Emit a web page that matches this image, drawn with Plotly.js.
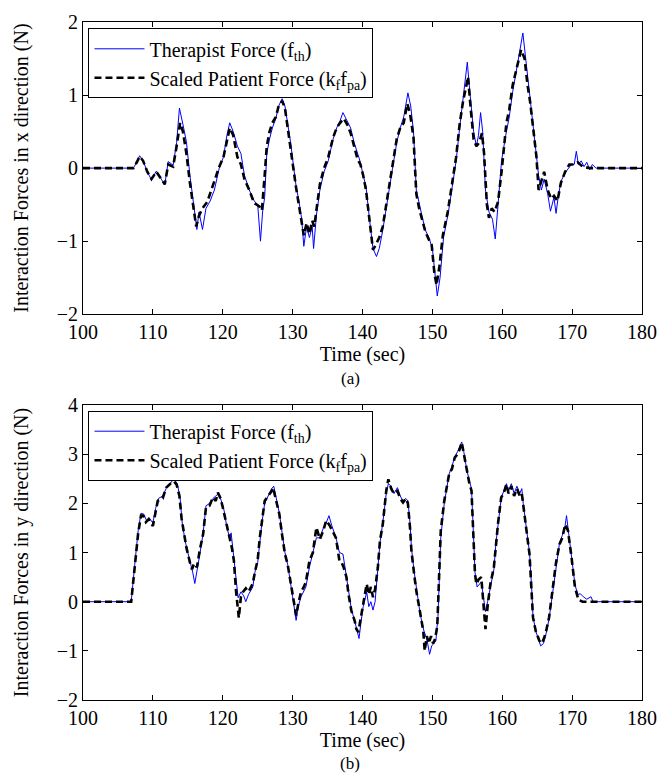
<!DOCTYPE html>
<html>
<head>
<meta charset="utf-8">
<script src="https://cdn.plot.ly/plotly-3.0.1.min.js"></script>
<style>html,body{margin:0;padding:0;background:#fff;}#chart{width:671px;height:774px;}</style>
</head>
<body>
<div id="chart"></div>
<script>
// ---- (a) x direction ----
const xThT = [100,107.2,107.7,108.1,108.6,109.2,109.8,110.5,111.2,111.7,112.2,112.9,113.4,113.8,114.3,114.8,115.3,115.8,116.3,116.6,117.1,117.6,118.2,118.8,119.5,120.1,120.6,121.0,121.5,122.1,122.6,123.1,123.8,124.5,125.0,125.4,125.7,126.0,126.3,126.7,127.1,127.6,128.0,128.5,128.9,129.3,129.7,130.1,130.5,130.9,131.3,131.6,132.0,132.4,132.8,133.0,133.4,133.9,134.5,135.1,135.8,136.3,136.8,137.2,137.8,138.3,138.8,139.3,139.7,140.1,140.5,141.0,141.5,142.0,142.4,142.9,143.6,144.3,144.9,145.4,145.9,146.5,146.9,147.3,147.7,148.1,148.5,149.0,149.5,150.0,150.4,150.7,151.1,151.6,152.3,152.9,153.4,153.9,154.4,154.8,155.0,155.4,155.9,156.3,156.6,156.9,157.2,157.6,158.1,158.6,159.0,159.4,159.9,160.5,161.0,161.5,162.0,162.5,162.95,163.3,163.7,164.0,164.4,164.9,165.2,165.6,166.0,166.5,166.9,167.4,167.7,168.0,168.4,169.1,169.9,170.3,170.6,170.9,171.3,171.7,172.1,172.5,172.9,173.4,180];
const xThV = [0,0,0.08,0.17,0.1,-0.05,-0.16,-0.04,-0.15,-0.23,0.09,0.04,0.35,0.82,0.6,0.36,-0.1,-0.5,-0.84,-0.6,-0.84,-0.55,-0.45,-0.3,0.0,0.15,0.45,0.62,0.5,0.3,0.2,-0.1,-0.3,-0.45,-0.5,-1.0,-0.6,-0.4,0.2,0.4,0.55,0.68,0.85,0.95,0.85,0.6,0.36,0.05,-0.25,-0.45,-0.7,-1.07,-0.8,-0.95,-0.8,-1.1,-0.65,-0.3,-0.05,0.1,0.4,0.55,0.65,0.76,0.65,0.55,0.35,0.2,0.08,-0.1,-0.25,-0.7,-1.1,-1.21,-1.1,-0.85,-0.4,0.0,0.35,0.55,0.7,1.03,0.85,0.5,-0.3,-0.5,-0.65,-0.85,-0.95,-1.1,-1.5,-1.75,-1.5,-0.95,-0.6,-0.2,0.1,0.55,0.95,1.25,1.45,1.0,0.5,0.3,0.45,0.76,0.5,-0.3,-0.6,-0.7,-0.97,-0.5,0.1,0.45,0.7,1.05,1.3,1.6,1.85,1.55,1.2,1.0,0.64,0.2,-0.1,-0.3,-0.15,-0.35,-0.59,-0.4,-0.62,-0.4,-0.18,-0.05,0.05,0.05,0.23,0.05,0.1,0.02,0.08,-0.02,0.05,0.0,0];
const xPaT = [100,107.2,107.7,108.1,108.6,109.2,109.8,110.5,111.2,111.7,112.2,112.9,113.4,113.9,114.3,114.8,115.3,115.8,116.2,116.6,117.1,117.8,118.6,119.5,120.1,120.6,121.0,121.5,122.1,122.6,123.1,123.8,124.5,125.2,125.6,126.0,126.3,126.7,127.1,127.6,128.0,128.5,128.9,129.3,129.7,130.1,130.5,130.9,131.3,131.6,132.0,132.4,132.8,133.1,133.4,133.9,134.5,135.1,135.8,136.3,136.8,137.3,137.8,138.3,138.8,139.3,139.7,140.1,140.5,141.0,141.5,141.9,142.4,142.9,143.6,144.3,144.9,145.4,145.9,146.4,146.8,147.3,147.7,148.1,148.5,149.0,149.5,149.9,150.3,150.6,151.0,151.5,152.2,152.9,153.4,153.9,154.4,154.8,155.1,155.5,155.9,156.3,156.7,157.1,157.4,157.8,158.1,158.5,158.9,159.4,159.9,160.6,161.0,161.5,162.0,162.4,162.7,163.2,163.6,164.0,164.4,164.9,165.2,165.5,166.0,166.5,167.0,167.4,167.9,168.4,169.0,169.6,170.2,170.8,171.5,172.5,173.5,180];
const xPaV = [0,0,0.08,0.16,0.1,-0.05,-0.15,-0.05,-0.15,-0.22,0.05,0.02,0.3,0.62,0.5,0.2,-0.2,-0.55,-0.8,-0.65,-0.55,-0.46,-0.22,0.02,0.15,0.4,0.55,0.45,0.15,0.05,-0.15,-0.3,-0.48,-0.52,-0.58,-0.1,0.3,0.5,0.62,0.7,0.85,0.92,0.82,0.55,0.3,0.0,-0.27,-0.5,-0.7,-0.92,-0.75,-0.9,-0.72,-0.8,-0.58,-0.22,0.0,0.15,0.42,0.55,0.62,0.68,0.6,0.48,0.3,0.12,0.05,-0.1,-0.3,-0.75,-1.12,-1.05,-0.95,-0.8,-0.36,0.05,0.4,0.55,0.62,0.88,0.75,0.42,-0.35,-0.55,-0.68,-0.87,-0.98,-1.05,-1.45,-1.6,-1.35,-0.92,-0.6,-0.16,0.15,0.6,0.92,1.1,1.25,0.8,0.4,0.3,0.35,0.48,0.2,-0.5,-0.68,-0.55,-0.6,-0.46,-0.05,0.62,0.8,1.14,1.35,1.5,1.62,1.5,1.15,0.9,0.6,0.15,-0.3,-0.2,-0.05,-0.3,-0.42,-0.38,-0.45,-0.2,-0.05,0.05,0.05,0.08,0.02,0.0,0.0,0];

// ---- (b) y direction ----
const yThT = [100,106.9,107.4,107.9,108.3,108.7,109.1,109.5,110.0,110.4,110.8,111.4,111.9,112.5,113.0,113.5,113.9,114.2,114.6,115.0,115.4,115.7,116.0,116.3,116.7,117.2,117.6,118.1,118.6,119.0,119.4,119.8,120.2,120.6,121.0,121.2,121.5,121.9,122.2,122.6,123.0,123.3,123.7,124.3,124.6,125.0,125.3,125.6,126.0,126.5,127.0,127.3,127.7,128.1,128.5,128.9,129.3,129.6,130.0,130.5,130.8,131.2,131.6,131.9,132.4,132.9,133.4,133.9,134.4,134.8,135.2,135.6,136.2,136.7,137.2,137.5,137.7,138.0,138.4,138.9,139.2,139.5,139.8,140.1,140.6,140.9,141.2,141.5,141.8,142.2,142.5,142.9,143.4,143.7,144.1,144.5,145.0,145.4,145.8,146.2,146.5,146.8,147.0,147.4,147.7,148.1,148.4,148.8,149.2,149.6,149.9,150.2,150.5,150.8,151.0,151.2,151.7,152.0,152.4,152.8,153.2,153.6,153.9,154.2,154.5,154.9,155.3,155.6,155.9,156.1,156.4,156.7,157.0,157.3,157.6,157.9,158.3,158.8,159.1,159.4,159.85,160.2,160.6,160.9,161.3,161.7,162.1,162.5,162.8,163.0,163.2,163.6,163.9,164.2,164.4,164.8,165.2,165.5,165.9,166.2,166.7,167.2,167.7,168.2,168.6,169.0,169.2,169.5,169.9,170.4,170.8,171.2,171.6,172.1,172.7,173.0,180];
const yThV = [0,0,0.75,1.45,1.8,1.78,1.65,1.7,1.6,1.9,2.1,2.15,2.3,2.42,2.5,2.4,2.1,1.6,1.25,1.0,0.8,0.6,0.37,0.6,0.95,1.4,1.95,2.0,2.1,2.15,2.2,2.05,1.85,1.5,1.3,1.4,1.0,0.5,0.08,0.2,0.12,0.0,0.15,0.3,0.6,0.8,1.25,1.6,2.0,2.15,2.3,2.35,2.1,1.8,1.4,1.0,0.75,0.5,0.1,-0.38,-0.1,0.1,0.2,0.3,0.7,1.0,1.3,1.3,1.5,1.6,1.75,1.55,1.3,1.0,0.97,0.7,0.5,0.15,-0.15,-0.4,-0.6,-0.75,-0.4,-0.1,0.2,-0.1,0.0,-0.17,0.0,0.6,1.2,1.6,2.2,2.4,2.35,2.2,2.32,2.15,2.05,2.1,2.05,1.6,1.1,0.6,0.25,-0.1,-0.35,-0.6,-0.75,-1.07,-0.9,-0.85,-0.8,-0.3,0.6,1.3,2.0,2.3,2.6,2.75,2.95,3.05,3.15,3.25,3.05,2.7,2.45,2.3,1.3,0.6,0.3,0.35,0.4,0.1,-0.2,0.0,0.3,0.65,1.2,1.6,2.1,2.25,2.4,2.25,2.4,2.2,2.35,2.2,2.3,2.0,1.75,1.3,1.0,0.3,-0.3,-0.6,-0.8,-0.9,-0.85,-0.7,-0.35,0.2,0.75,1.2,1.35,1.55,1.75,1.4,0.95,0.35,0.15,0.16,0.1,0.05,0.1,0.0,0];
const yPaT = [100,106.9,107.4,107.9,108.3,108.6,109.0,109.4,110.0,110.4,110.7,111.4,111.9,112.5,113.0,113.4,113.8,114.1,114.5,114.8,115.3,115.6,115.9,116.3,116.7,117.2,117.6,118.1,118.6,119.0,119.3,119.7,120.0,120.5,121.0,121.3,121.6,121.9,122.3,122.6,122.9,123.3,123.7,124.3,124.6,125.0,125.3,125.6,126.0,126.5,127.0,127.2,127.7,128.1,128.5,128.9,129.3,129.6,130.0,130.5,130.8,131.2,131.6,131.9,132.4,132.9,133.4,133.9,134.4,134.8,135.3,135.8,136.2,136.7,137.0,137.3,137.7,138.0,138.4,138.9,139.1,139.4,139.8,140.1,140.6,140.9,141.2,141.5,141.8,142.2,142.5,142.9,143.4,143.7,144.1,144.5,145.0,145.4,145.8,146.2,146.5,146.8,147.0,147.4,147.7,148.1,148.4,148.7,148.9,149.2,149.5,149.8,150.1,150.4,150.7,151.0,151.2,151.7,152.0,152.4,152.8,153.2,153.6,153.9,154.2,154.5,154.9,155.3,155.6,155.9,156.1,156.3,156.6,157.0,157.3,157.6,157.9,158.3,158.8,159.1,159.4,159.85,160.2,160.6,160.9,161.3,161.7,162.1,162.5,162.8,163.0,163.2,163.6,163.9,164.2,164.4,164.8,165.3,165.7,166.2,166.7,167.2,167.7,168.2,168.6,169.0,169.4,169.9,170.4,170.9,171.5,180];
const yPaV = [0,0,0.7,1.4,1.75,1.75,1.62,1.68,1.54,1.8,2.05,2.1,2.32,2.4,2.45,2.38,2.15,1.7,1.3,1.1,0.8,0.66,0.78,0.7,1.04,1.38,1.92,1.95,2.12,2.05,2.22,2.1,1.92,1.6,1.3,1.1,0.83,0.22,-0.33,0.1,0.2,0.27,0.2,0.37,0.6,0.85,1.3,1.65,2.05,2.15,2.25,2.32,2.05,1.78,1.35,0.97,0.75,0.5,0.1,-0.28,-0.05,0.2,0.3,0.4,0.83,1.0,1.51,1.27,1.45,1.65,1.55,1.4,1.3,0.83,0.8,0.7,0.5,0.15,-0.18,-0.4,-0.55,-0.62,-0.3,-0.05,0.36,0.15,0.3,0.09,0.25,0.7,1.24,1.57,2.26,2.49,2.3,2.2,2.25,2.1,2.02,2.1,2.0,1.5,1.04,0.55,0.22,-0.1,-0.39,-0.6,-1.0,-0.7,-0.85,-0.7,-0.85,-0.75,-0.5,0.8,1.44,2.05,2.3,2.6,2.7,2.93,3.0,3.1,3.24,3.0,2.66,2.4,2.26,1.24,0.56,0.36,0.45,0.5,-0.1,-0.56,-0.1,0.36,0.7,1.22,1.6,2.12,2.2,2.39,2.2,2.35,2.15,2.3,2.15,2.2,2.0,1.71,1.3,0.97,0.3,-0.32,-0.6,-0.79,-0.85,-0.65,-0.32,0.22,0.8,1.17,1.3,1.57,1.45,0.92,0.3,0.04,0.0,0];

const xTicks = [100,110,120,130,140,150,160,170,180];
const nameTh = 'Therapist Force (f<sub>th</sub>)';
const namePa = 'Scaled Patient Force (k<sub>f</sub>f<sub>pa</sub>)';

const blue = 'rgb(0,0,255)';
const dashStyle = {color:'black', width:2.6, dash:'7px,4px'};

const traces = [
  {x:xThT, y:xThV, xaxis:'x', yaxis:'y', mode:'lines', name:nameTh, line:{color:blue, width:1}, legend:'legend'},
  {x:xPaT, y:xPaV, xaxis:'x', yaxis:'y', mode:'lines', name:namePa, line:dashStyle, legend:'legend'},
  {x:yThT, y:yThV, xaxis:'x2', yaxis:'y2', mode:'lines', name:nameTh, line:{color:blue, width:1}, legend:'legend2'},
  {x:yPaT, y:yPaV, xaxis:'x2', yaxis:'y2', mode:'lines', name:namePa, line:dashStyle, legend:'legend2'}
];

const font = {family:'Liberation Serif', size:20, color:'black'};
const axBase = {showline:true, linecolor:'black', linewidth:1, mirror:'ticks', ticks:'inside', ticklen:5,
  tickcolor:'black', showgrid:false, zeroline:false, tickfont:font, automargin:false};

const legBase = {xanchor:'left', yanchor:'top', bordercolor:'black', borderwidth:1, bgcolor:'white',
  font:font, xref:'paper', yref:'paper', itemwidth:50};

const layout = {
  width:671, height:774,
  margin:{l:83, r:29, t:22, b:74},
  paper_bgcolor:'white', plot_bgcolor:'white',
  font:font,
  showlegend:true,
  xaxis:Object.assign({}, axBase, {domain:[0,1], anchor:'y', range:[100,180], tickvals:xTicks,
    title:{text:'Time (sec)', font:font, standoff:2}}),
  yaxis:Object.assign({}, axBase, {domain:[0.569,1], anchor:'x', range:[-2,2], dtick:1,
    title:{text:'Interaction Forces in x direction (N)', font:font, standoff:22}}),
  xaxis2:Object.assign({}, axBase, {domain:[0,1], anchor:'y2', range:[100,180], tickvals:xTicks,
    title:{text:'Time (sec)', font:font, standoff:2}}),
  yaxis2:Object.assign({}, axBase, {domain:[0,0.435], anchor:'x2', range:[-2,4], dtick:1,
    title:{text:'Interaction Forces in y direction (N)', font:font, standoff:22}}),
  legend:Object.assign({}, legBase, {x:0.0098, y:0.9907}),
  legend2:Object.assign({}, legBase, {x:0.0098, y:0.4267}),
  annotations:[
    {text:'(a)', xref:'paper', yref:'paper', x:0.478, y:0.4749, showarrow:false, font:Object.assign({}, font, {size:17}), xanchor:'center', yanchor:'middle'},
    {text:'(b)', xref:'paper', yref:'paper', x:0.478, y:-0.0935, showarrow:false, font:Object.assign({}, font, {size:17}), xanchor:'center', yanchor:'middle'}
  ]
};

Plotly.newPlot('chart', traces, layout, {displayModeBar:false, staticPlot:true});
</script>
</body>
</html>
